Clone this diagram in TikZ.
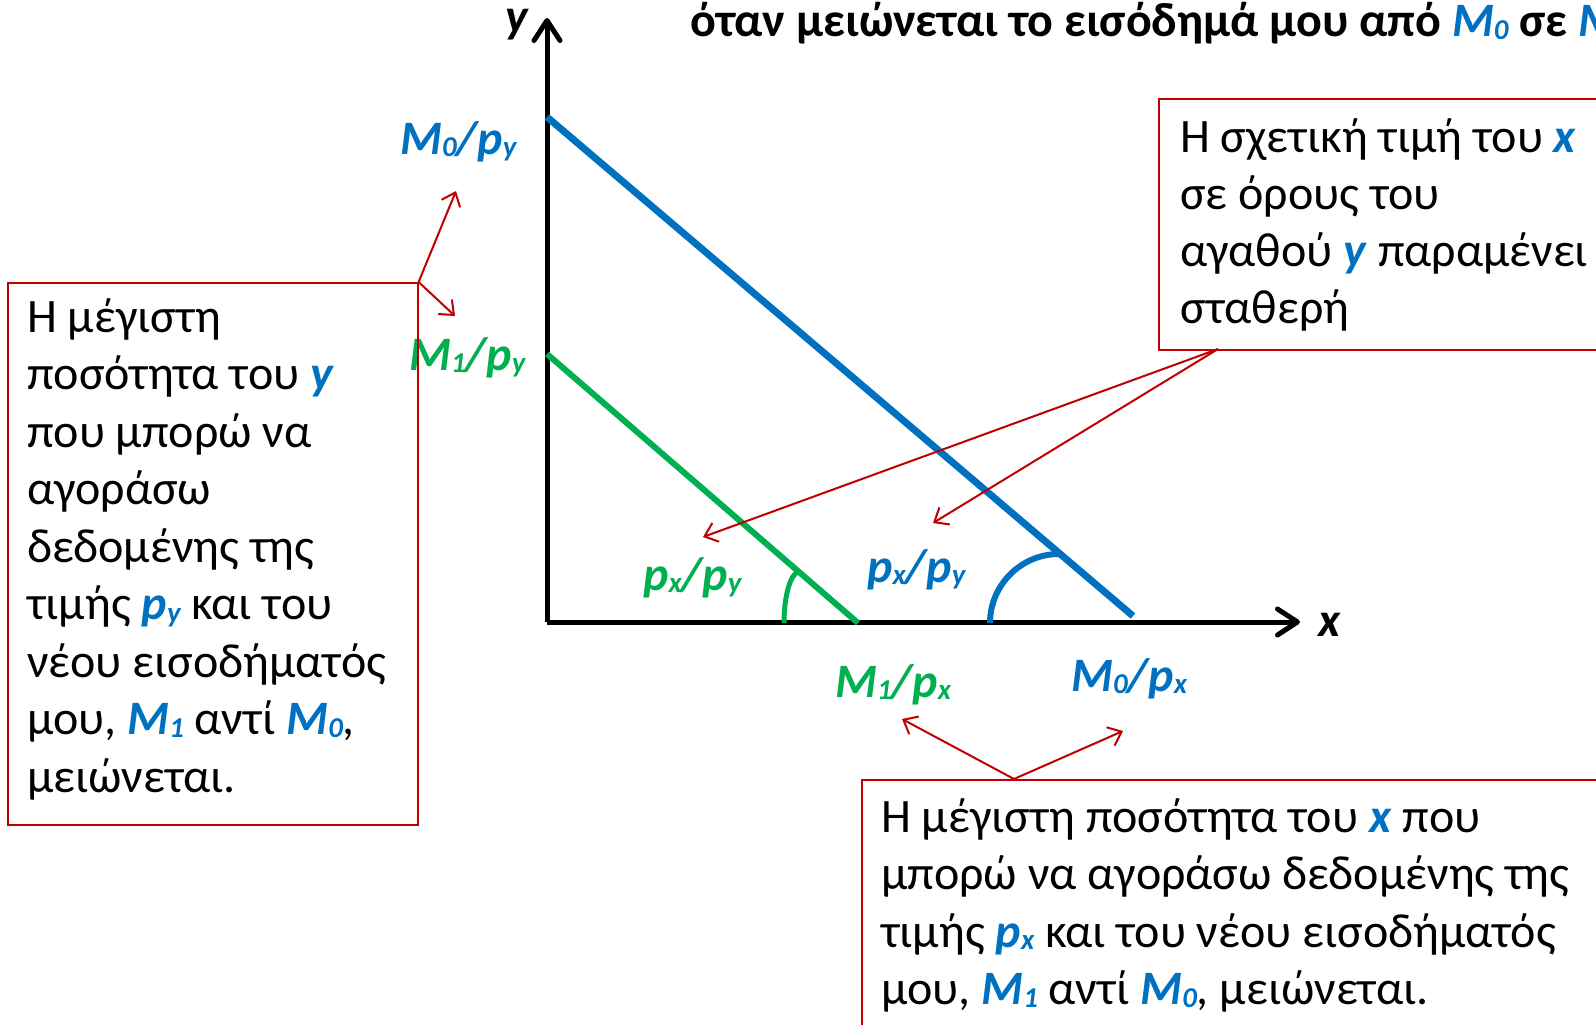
\documentclass[tikz,border=0pt]{standalone}
\usepackage{fontspec}
\setmainfont{Carlito}
\usetikzlibrary{arrows.meta}
\definecolor{bl}{HTML}{0070C0}
\definecolor{gr}{HTML}{00B050}
\definecolor{rd}{HTML}{C00000}
\newcommand\lsub[1]{\raisebox{-0.06em}{\scalebox{0.6}{#1}}}
\newcommand\bv[1]{\textcolor{bl}{\textbf{\textit{#1}}}}
\begin{document}
\begin{tikzpicture}[x=1pt,y=-1pt,
  body/.style={anchor=base west, inner sep=0pt, font=\fontsize{48}{56}\selectfont},
  lab/.style={anchor=base west, inner sep=0pt, font=\fontsize{48}{56}\selectfont\bfseries\itshape},
  redbox/.style={draw=rd, line width=1.6pt, anchor=north west, inner sep=0pt},
  note/.style={draw=rd, line width=2pt, -{Straight Barb[length=12pt,width=20pt]}},
  axis/.style={line width=5pt, -{Straight Barb[length=20pt,width=26pt,round]}}]
\useasboundingbox (0,0) rectangle (1596,1025);
\clip (0,0) rectangle (1596,1025);

% title
\node[anchor=base west, inner sep=0pt, font=\fontsize{48}{56}\selectfont\bfseries] (title) at (690,37)
  {όταν μειώνεται το εισόδημά μου από \textcolor{bl}{\textit{M\lsub{0}}} σε \textcolor{bl}{\textit{M\lsub{1}}}};

% axes
\coordinate (O) at (547,622);
\coordinate (ytip) at (547,18);
\coordinate (xtip) at (1300,622);
\draw[axis] (O) -- (ytip);
\draw[axis] (O) -- (xtip);
\node[lab, anchor=base east] (ylab) at (528,33) {y};
\node[lab] (xlab) at (1318,636) {x};

% budget lines
\coordinate (b0) at (547,117);
\coordinate (b1) at (1133,616);
\coordinate (g0) at (547,354);
\coordinate (g1) at (858,623);
\draw[bl, line width=7pt] (b0) -- (b1);
\draw[gr, line width=6pt] (g0) -- (g1);

% angle arcs
\coordinate (ba0) at (990,623);
\coordinate (ba1) at (1059,554);
\draw[bl, line width=6pt] (ba0) .. controls (990,585) and (1021,554) .. (ba1);
\coordinate (ga0) at (784,623);
\coordinate (ga1) at (799,572);
\draw[gr, line width=5pt] (ga0) .. controls (784,595) and (791,572) .. (ga1);

% labels
\node[lab, bl] (m0py) at (400,154) {M\lsub{0}/p\lsub{y}};
\node[lab, gr] (m1py) at (409,370) {M\lsub{1}/p\lsub{y}};
\node[lab, gr] (gslope) at (643,590) {p\lsub{x}/p\lsub{y}};
\node[lab, bl] (bslope) at (867,582) {p\lsub{x}/p\lsub{y}};
\node[lab, gr] (m1px) at (835,697) {M\lsub{1}/p\lsub{x}};
\node[lab, bl] (m0px) at (1071,691) {M\lsub{0}/p\lsub{x}};

% left box
\node[redbox, minimum width=410pt, minimum height=542pt] (lbox) at (7,282) {};
\foreach \t [count=\i from 0] in {
  {Η μέγιστη},
  {ποσότητα του \bv{y}},
  {που μπορώ να},
  {αγοράσω},
  {δεδομένης της},
  {τιμής \bv{p\lsub{y}} και του},
  {νέου εισοδήματός},
  {μου, \bv{M\lsub{1}} αντί \bv{M\lsub{0}},},
  {μειώνεται.}}
  \node[body] (lt\i) at (27,332+57.5*\i) {\t};

% right box
\node[redbox, minimum width=480pt, minimum height=251pt] (rbox) at (1158,98) {};
\foreach \t [count=\i from 0] in {
  {Η σχετική τιμή του \bv{x}},
  {σε όρους του},
  {αγαθού \bv{y} παραμένει},
  {σταθερή}}
  \node[body] (rt\i) at (1180,152+57*\i) {\t};

% bottom box
\node[redbox, minimum width=800pt, minimum height=300pt] (bbox) at (861,779) {};
\foreach \t [count=\i from 0] in {
  {Η μέγιστη ποσότητα του \bv{x} που},
  {μπορώ να αγοράσω δεδομένης της},
  {τιμής \bv{p\lsub{x}} και του νέου εισοδήματός},
  {μου, \bv{M\lsub{1}} αντί \bv{M\lsub{0}}, μειώνεται.}}
  \node[body] (bt\i) at (881,832+57.5*\i) {\t};

% callout arrows
\coordinate (a1) at (456,191);
\coordinate (a2) at (455,316);
\draw[note] (lbox.north east) -- (a1);
\draw[note] (lbox.north east) -- (a2);
\coordinate (rs) at (1218,349);
\coordinate (a3) at (703,537);
\coordinate (a4) at (933,523);
\draw[note] (rs) -- (a3);
\draw[note] (rs) -- (a4);
\coordinate (bs) at (1014,779);
\coordinate (a5) at (902,719);
\coordinate (a6) at (1123,731);
\draw[note] (bs) -- (a5);
\draw[note] (bs) -- (a6);
\end{tikzpicture}
\end{document}
